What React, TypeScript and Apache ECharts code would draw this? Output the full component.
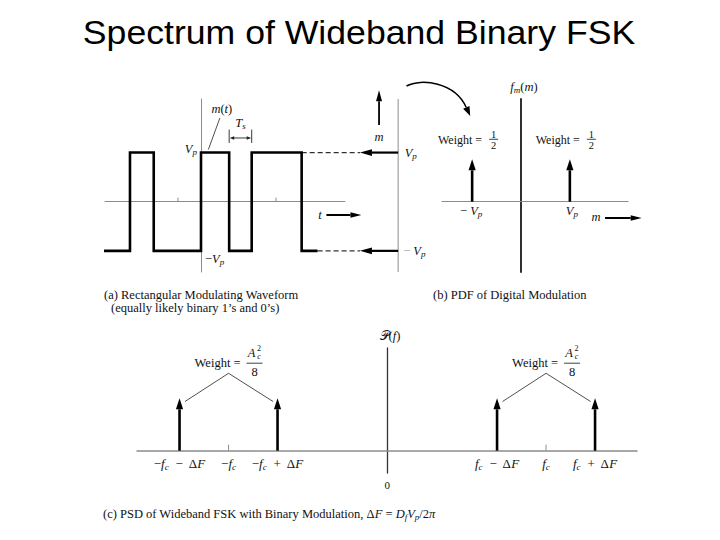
import React, { useEffect, useRef } from "react";
import * as echarts from "echarts";

// ---------- texts ----------
const TITLE = "Spectrum of Wideband Binary FSK";
const CAPTION_A1 = "(a) Rectangular Modulating Waveform";
const CAPTION_A2 = "(equally likely binary 1’s and 0’s)";
const CAPTION_B = "(b) PDF of Digital Modulation";
const CAPTION_C = "(c) PSD of Wideband FSK with Binary Modulation, Δ{i|F} = {i|D}{s|f}{i|V}{s|p}/2{i|π}";

// ---------- (a) rectangular modulating waveform (t in Ts units, level in Vp units) ----------
const waveEdges = [-3.96, -2.9, -1.93, 0, 1.15, 2.07, 4.11, 4.76];
const waveLevels = [-1, 1, -1, 1, -1, 1, -1];
const waveTicks = [-0.94, 3.06];
const tsSpan = [1.15, 2.07];
const mAxisT = 8.05; // the m axis drawn to the right of (a)
const arrowTipT = 6.49;

// ---------- (b) PDF of the digital modulation ----------
const pdfValues = [-1, 1]; // m = -Vp, +Vp
const pdfWeights = [0.5, 0.5];
const pdfAxisLabels = ["− {i|V}{s|p}", "{i|V}{s|p}"];

// ---------- (c) PSD of wideband FSK ----------
const fc = 3.24;
const dF = 1;
const psdFreqs = [-fc - dF, -fc + dF, fc - dF, fc + dF];
const psdWeights = [1, 1, 1, 1]; // each = Ac^2 / 8
const psdTicks = [-fc, fc];
const psdLabelValues = [-fc - dF, -fc, -fc + dF, fc - dF, fc, fc + dF];
const psdLabelTexts = [
  "−{i|f}{s|c}  −  Δ{i|F}",
  "−{i|f}{s|c}",
  "−{i|f}{s|c}  +  Δ{i|F}",
  "{i|f}{s|c}  −  Δ{i|F}",
  "{i|f}{s|c}",
  "{i|f}{s|c}  +  Δ{i|F}",
];

const SERIF = '"Liberation Serif", "Times New Roman", "DejaVu Serif", serif';
const SANS = '"Liberation Sans", Arial, sans-serif';
const INK = "#111";

const richStyles = (fs: number) => ({
  n: { fontFamily: SERIF, fontSize: fs, fill: INK },
  i: { fontFamily: SERIF, fontSize: fs, fontStyle: "italic", fill: INK },
  s: {
    fontFamily: SERIF,
    fontSize: Math.round(fs * 0.72),
    fontStyle: "italic",
    fill: INK,
    padding: [Math.round(fs * 0.5), 0, 0, 0],
  },
  g: { fontFamily: SERIF, fontSize: fs, fill: "#9a9a9a" },
});

function label(x: number, y: number, text: string, fs = 12, align = "center", extra: any = {}) {
  return {
    type: "text",
    x,
    y,
    silent: true,
    style: {
      text,
      rich: richStyles(fs),
      fontFamily: SERIF,
      fontSize: fs,
      fill: INK,
      textAlign: align,
      textVerticalAlign: "middle",
      ...extra,
    },
  };
}
const gLine = (x1: number, y1: number, x2: number, y2: number, stroke = "#222", lineWidth = 1) => ({
  type: "line",
  silent: true,
  shape: { x1, y1, x2, y2 },
  style: { stroke, lineWidth },
});
const gPoly = (points: number[][], fill = "#000") => ({
  type: "polygon",
  silent: true,
  shape: { points },
  style: { fill },
});

function arrowShapes(p1: number[], p2: number[], head: number, halfW: number, width: number, color: string) {
  const dx = p2[0] - p1[0];
  const dy = p2[1] - p1[1];
  const len = Math.hypot(dx, dy) || 1;
  const ux = dx / len;
  const uy = dy / len;
  const bx = p2[0] - ux * head;
  const by = p2[1] - uy * head;
  const nx = -uy;
  const ny = ux;
  return [
    { type: "line", shape: { x1: p1[0], y1: p1[1], x2: bx, y2: by }, style: { stroke: color, lineWidth: width } },
    {
      type: "polygon",
      shape: { points: [[p2[0], p2[1]], [bx + nx * halfW, by + ny * halfW], [bx - nx * halfW, by - ny * halfW]] },
      style: { fill: color },
    },
  ];
}

// ---------- series helpers ----------
function segmentSeries(grid: number, data: number[][], style: any) {
  return {
    type: "custom",
    xAxisIndex: grid,
    yAxisIndex: grid,
    clip: false,
    silent: true,
    encode: { x: [0, 2], y: [1, 3] },
    data,
    renderItem: (_p: any, api: any) => {
      const a = api.coord([api.value(0), api.value(1)]);
      const b = api.coord([api.value(2), api.value(3)]);
      return { type: "line", shape: { x1: a[0], y1: a[1], x2: b[0], y2: b[1] }, style };
    },
  };
}
function arrowSeries(grid: number, data: number[][], head: number, halfW: number, width: number, color = "#000") {
  return {
    type: "custom",
    xAxisIndex: grid,
    yAxisIndex: grid,
    clip: false,
    silent: true,
    encode: { x: [0, 2], y: [1, 3] },
    data,
    renderItem: (_p: any, api: any) => {
      const a = api.coord([api.value(0), api.value(1)]);
      const b = api.coord([api.value(2), api.value(3)]);
      return { type: "group", children: arrowShapes(a, b, head, halfW, width, color) };
    },
  };
}
function impulseSeries(grid: number, xs: number[], ws: number[]) {
  return arrowSeries(
    grid,
    xs.map((x, k) => [x, 0, x, ws[k]]),
    11,
    3.6,
    2.6,
    "#000"
  );
}
function tickSeries(grid: number, xs: number[], len: number, color: string) {
  return {
    type: "custom",
    xAxisIndex: grid,
    yAxisIndex: grid,
    clip: false,
    silent: true,
    encode: { x: 0, y: 1 },
    data: xs.map((x) => [x, 0]),
    renderItem: (_p: any, api: any) => {
      const a = api.coord([api.value(0), 0]);
      return { type: "line", shape: { x1: a[0], y1: a[1], x2: a[0], y2: a[1] - len }, style: { stroke: color, lineWidth: 1 } };
    },
  };
}

function buildWave() {
  const pts: number[][] = [];
  for (let k = 0; k < waveLevels.length; k++) {
    pts.push([waveEdges[k], waveLevels[k]]);
    pts.push([waveEdges[k + 1], waveLevels[k]]);
  }
  return pts;
}

const axisBase = {
  type: "value",
  axisTick: { show: false },
  axisLabel: { show: false },
  splitLine: { show: false },
};
const axLine = (color: string, width: number) => ({
  show: true,
  onZero: true,
  lineStyle: { color, width },
});

const lastHighEnd = waveEdges[waveLevels.lastIndexOf(1) + 1];
const lastLowEnd = waveEdges[waveEdges.length - 1];

const baseOption: any = {
  animation: false,
  backgroundColor: "#ffffff",
  grid: [
    { left: 105, top: 99, width: 240, height: 173, outerBoundsMode: "none" },
    { left: 442, top: 99, width: 186, height: 173, outerBoundsMode: "none" },
    { left: 137, top: 348, width: 500, height: 125, outerBoundsMode: "none" },
  ],
  xAxis: [
    { ...axisBase, gridIndex: 0, min: -3.92, max: 5.88, axisLine: axLine("#8c8c8c", 1) },
    { ...axisBase, gridIndex: 1, min: -1.617, max: 2.19, axisLine: axLine("#8c8c8c", 1.2) },
    { ...axisBase, gridIndex: 2, min: -5.108, max: 5.096, axisLine: axLine("#8c8c8c", 1.5) },
  ],
  yAxis: [
    { ...axisBase, gridIndex: 0, min: -1.43, max: 2.09, axisLine: axLine("#8c8c8c", 1) },
    { ...axisBase, gridIndex: 1, min: -0.829, max: 1.211, axisLine: axLine("#1a1a1a", 1.8) },
    { ...axisBase, gridIndex: 2, min: -0.426, max: 1.96, axisLine: axLine("#333", 1.3) },
  ],
  series: [
    // (a)
    segmentSeries(0, [[mAxisT, -1.43, mAxisT, 2.09]], { stroke: "#8c8c8c", lineWidth: 1 }),
    tickSeries(0, waveTicks, 4, "#8c8c8c"),
    segmentSeries(
      0,
      [
        [lastHighEnd, 1, arrowTipT, 1],
        [lastLowEnd, -1, arrowTipT, -1],
      ],
      { stroke: "#333", lineWidth: 1.3, lineDash: [5, 3] }
    ),
    arrowSeries(
      0,
      [
        [mAxisT, 1, arrowTipT, 1],
        [mAxisT, -1, arrowTipT, -1],
      ],
      12,
      3.4,
      2.2
    ),
    arrowSeries(0, [[5.12, -0.27, 6.55, -0.27]], 11, 2.8, 2),
    arrowSeries(0, [[7.27, 1.56, 7.27, 2.27]], 11, 3, 1.8),
    {
      type: "line",
      xAxisIndex: 0,
      yAxisIndex: 0,
      data: buildWave(),
      symbol: "none",
      clip: false,
      silent: true,
      lineStyle: { color: "#000", width: 2.6, join: "miter", cap: "butt" },
    },
    // (b)
    impulseSeries(1, pdfValues, pdfWeights),
    arrowSeries(1, [[1.72, -0.192, 2.47, -0.192]], 11, 2.8, 2),
    // (c)
    tickSeries(2, psdTicks, 6, "#8c8c8c"),
    impulseSeries(2, psdFreqs, psdWeights),
  ],
};

function buildGraphics(px: (g: number, x: number, y: number) => number[]) {
  const g: any[] = [];
  // Title
  g.push({
    type: "text",
    x: 359,
    y: 32.5,
    scaleX: 1.08,
    silent: true,
    style: {
      text: TITLE,
      fontFamily: SANS,
      fontSize: 33,
      fill: "#000",
      textAlign: "center",
      textVerticalAlign: "middle",
    },
  });

  // ----- (a) -----
  const o0 = px(0, 0, 0);
  const hi = px(0, 0, 1);
  const lo = px(0, 0, -1);
  g.push(label(o0[0] - 4, hi[1] - 3.5, "{i|V}{s|p}", 12.5, "right"));
  g.push(label(o0[0] + 4, lo[1] + 8, "−{i|V}{s|p}", 12.5, "left"));
  const mt = px(0, 0.3, 1);
  g.push(gLine(mt[0], mt[1] - 3, mt[0] + 11.5, mt[1] - 34.5, "#222", 0.8));
  g.push(label(mt[0] + 13.5, mt[1] - 43.5, "{i|m}({i|t})", 12.5));
  const t1 = px(0, tsSpan[0], 1);
  const t2 = px(0, tsSpan[1], 1);
  g.push(gLine(t1[0], t1[1] - 23, t1[0], t1[1] - 9.6, "#222", 0.9));
  g.push(gLine(t2[0], t2[1] - 23, t2[0], t2[1] - 9.6, "#222", 0.9));
  const ty = t1[1] - 14.6;
  g.push(gLine(t1[0] + 4, ty, t2[0] - 4, ty, "#222", 0.9));
  g.push(gPoly([[t1[0] + 0.5, ty], [t1[0] + 5, ty - 1.8], [t1[0] + 5, ty + 1.8]], "#222"));
  g.push(gPoly([[t2[0] - 0.5, ty], [t2[0] - 5, ty - 1.8], [t2[0] - 5, ty + 1.8]], "#222"));
  g.push(label((t1[0] + t2[0]) / 2, t1[1] - 29.6, "{i|T}{s|s}", 12.5));
  const tArrow = px(0, 5.12, -0.27);
  g.push(label(tArrow[0] - 6.5, tArrow[1], "{i|t}", 12.5));
  const mUp = px(0, 7.27, 1.56);
  g.push(label(mUp[0], mUp[1] + 11.5, "{i|m}", 12.5));
  const mA = px(0, mAxisT, 1);
  const mB = px(0, mAxisT, -1);
  g.push(label(mA[0] + 6.5, mA[1], "{i|V}{s|p}", 12.5, "left"));
  g.push(label(mA[0] + 5, mB[1], "{g|−} {i|V}{s|p}", 12.5, "left"));

  // curved arrow from (a) to (b)
  g.push({
    type: "bezierCurve",
    silent: true,
    shape: { x1: 406.5, y1: 86, cpx1: 421, cpy1: 78, cpx2: 455, cpy2: 82, x2: 466.3, y2: 107.5 },
    style: { stroke: "#000", lineWidth: 1.5, fill: "none" },
  });
  {
    const tip = [470.2, 116];
    const d = [tip[0] - 455, tip[1] - 82];
    const L = Math.hypot(d[0], d[1]);
    const u = [d[0] / L, d[1] / L];
    const b = [tip[0] - u[0] * 9.5, tip[1] - u[1] * 9.5];
    const n = [-u[1], u[0]];
    g.push(gPoly([tip, [b[0] + n[0] * 3.5, b[1] + n[1] * 3.5], [b[0] - n[0] * 3.5, b[1] - n[1] * 3.5]], "#000"));
  }

  // ----- (b) -----
  const ob = px(1, 0, 0);
  const bTop = px(1, 0, 1.211);
  g.push(label(ob[0] + 3, bTop[1] - 12.3, "{i|f}{s|m}({i|m})", 12.5));
  pdfValues.forEach((v, k) => {
    const tip = px(1, v, pdfWeights[k]);
    const base = px(1, v, 0);
    g.push(label(tip[0] + 10, tip[1] - 19.3, "Weight =", 12, "right"));
    const cx = tip[0] + 21.5;
    const by = tip[1] - 20;
    g.push(label(cx, by - 5.2, "1", 10.5));
    g.push(gLine(cx - 4.5, by, cx + 4.5, by, "#111", 0.8));
    g.push(label(cx, by + 6, "2", 10.5));
    g.push(label(base[0] + (v > 0 ? 2 : -1), base[1] + 9, pdfAxisLabels[k], 12.5));
  });
  const mArrow = px(1, 1.72, -0.192);
  g.push(label(mArrow[0] - 9, mArrow[1] - 0.5, "{i|m}", 12.5));

  // ----- (c) -----
  const oc = px(2, 0, 0);
  const cTop = px(2, 0, 1.96);
  g.push(label(oc[0] + 2.7, cTop[1] - 12.3, "𝒫({i|f})", 12.5));
  g.push(label(oc[0], oc[1] + 34.3, "0", 11));
  psdLabelValues.forEach((v, k) => {
    const p = px(2, v, 0);
    g.push(label(p[0], p[1] + 13.3, psdLabelTexts[k], 13));
  });
  [-1, 1].forEach((side) => {
    const fLow = side < 0 ? -fc - dF : fc - dF;
    const fHigh = side < 0 ? -fc + dF : fc + dF;
    const tipL = px(2, fLow, psdWeights[0]);
    const tipH = px(2, fHigh, psdWeights[0]);
    const apex = px(2, side * fc, psdWeights[0]);
    const ay = apex[1] - 25;
    g.push(gLine(apex[0], ay, tipL[0] + 5.5, tipL[1] + 3.2, "#222", 0.8));
    g.push(gLine(apex[0], ay, tipH[0] - 4.5, tipH[1] + 3.2, "#222", 0.8));
    const ly = apex[1] - 35.6;
    g.push(label(apex[0] + 12, ly, "Weight =", 12.5, "right"));
    const cx = apex[0] + 26;
    g.push(gLine(cx - 8, ly + 0.5, cx + 8, ly + 0.5, "#111", 0.8));
    g.push(label(cx - 3, ly - 10, "{i|A}", 12.5));
    g.push(label(cx + 4.5, ly - 14.5, "2", 8));
    g.push(label(cx + 4.5, ly - 6.5, "{c|c}", 8, "center", { rich: { c: { fontFamily: SERIF, fontSize: 8, fontStyle: "italic", fill: INK } } }));
    g.push(label(cx, ly + 9.5, "8", 12.5));
  });

  // ----- captions -----
  g.push(label(104, 295, CAPTION_A1, 12.5, "left"));
  g.push(label(111, 308, CAPTION_A2, 12.5, "left"));
  g.push(label(433, 295, CAPTION_B, 12.5, "left"));
  g.push(label(103, 514, CAPTION_C, 12.5, "left"));
  return g;
}

export default function App() {
  const ref = useRef<HTMLDivElement>(null);
  useEffect(() => {
    if (!ref.current) return;
    const chart = echarts.init(ref.current, null, { renderer: "svg" });
    chart.setOption(baseOption);
    const px = (gi: number, x: number, y: number) =>
      chart.convertToPixel({ gridIndex: gi }, [x, y]) as number[];
    chart.setOption({ graphic: buildGraphics(px) });
    return () => chart.dispose();
  }, []);
  return (
    <div
      ref={ref}
      style={{ position: "absolute", left: 0, top: 0, width: 720, height: 540, background: "#fff" }}
    />
  );
}
